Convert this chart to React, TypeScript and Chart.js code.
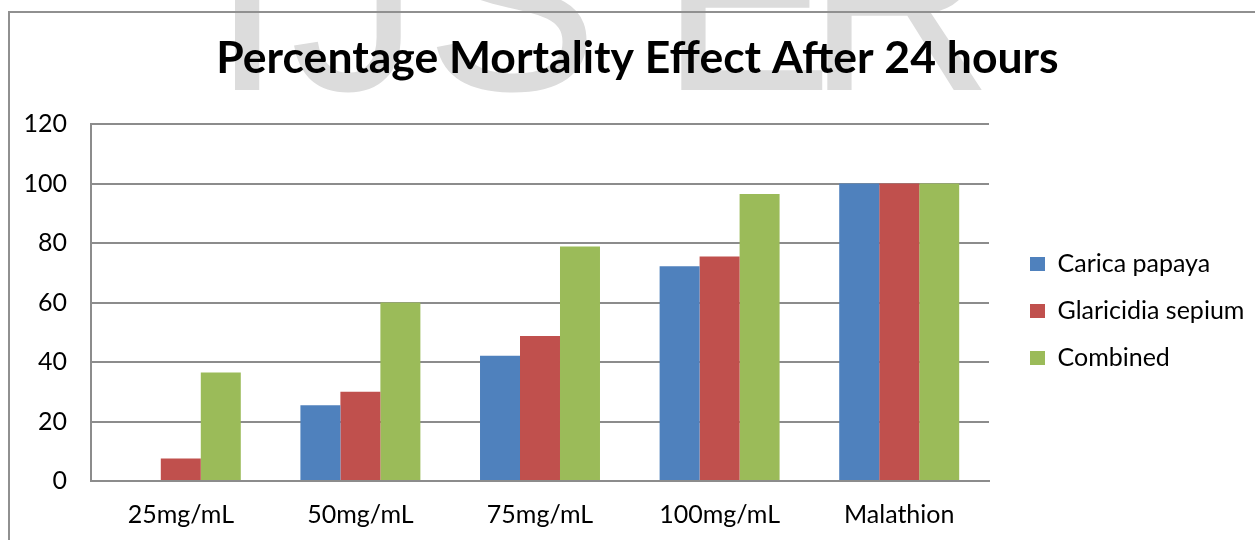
import React, { useEffect, useRef } from 'react';
import { Chart, registerables } from 'chart.js';

Chart.register(...registerables);

const chartTitle = 'Percentage Mortality Effect After 24 hours';
const categories = ['25mg/mL', '50mg/mL', '75mg/mL', '100mg/mL', 'Malathion'];
const seriesNames = ['Carica papaya', 'Glaricidia sepium', 'Combined'];
const caricaPapaya = [0, 25.5, 42.1, 72.2, 100];
const glaricidiaSepium = [7.6, 30, 48.7, 75.5, 100];
const combined = [36.5, 60, 78.8, 96.5, 100];
const yMin = 0;
const yMax = 120;
const yStep = 20;
const seriesColors = ['#4F81BD', '#C0504D', '#9BBB59'];
const watermarkLetters = ['I', 'J', 'S', 'E', 'R'];
const watermarkLefts = [211, 290, 425, 660, 806];

const FONT = 'Lato';
const LABEL_SIZE = 25;

export default function App() {
  const canvasRef = useRef<HTMLCanvasElement | null>(null);

  useEffect(() => {
    const canvas = canvasRef.current;
    if (!canvas) return;
    const ctx = canvas.getContext('2d');
    let textW = 185;
    if (ctx) {
      ctx.font = `normal ${LABEL_SIZE}px ${FONT}`;
      textW = Math.max(...seriesNames.map((n) => ctx.measureText(n).width));
    }
    const legendPad = 22;
    const boxW = 15;
    const legendLeft = 1008;
    const legendW = legendPad + boxW + LABEL_SIZE / 2 + textW + 10;
    const padR = 1255 - legendLeft - legendW;
    const padL = padR + 20;
    const plotLeft = 91;
    const plotRight = 989;

    const values = [caricaPapaya, glaricidiaSepium, combined];
    const chart = new Chart(canvas, {
      type: 'bar',
      data: {
        labels: categories,
        datasets: seriesNames.map((name, i) => ({
          label: name,
          data: values[i],
          backgroundColor: seriesColors[i],
          borderWidth: 0,
          categoryPercentage: 0.668,
          barPercentage: 1,
        })),
      },
      options: {
        responsive: false,
        animation: false,
        devicePixelRatio: 1,
        layout: { padding: { left: padL, right: padR, top: 0, bottom: 0 } },
        plugins: {
          tooltip: { enabled: false },
          title: {
            display: true,
            text: chartTitle,
            color: '#000000',
            font: { family: FONT, size: 44.5, weight: 'bold' },
            padding: { top: 32, bottom: 38.6 },
          },
          legend: {
            display: true,
            position: 'right',
            fullSize: false,
            title: { display: true, text: '', font: { size: 0 }, padding: { top: 17, bottom: 0 } },
            labels: {
              color: '#000000',
              font: { family: FONT, size: LABEL_SIZE },
              boxWidth: boxW,
              boxHeight: 14,
              padding: legendPad,
            },
          },
        },
        scales: {
          x: {
            type: 'category',
            grid: { display: false, drawTicks: false },
            border: { display: true, color: '#8c8c8c', width: 2 },
            ticks: { color: '#000000', font: { family: FONT, size: LABEL_SIZE }, padding: 19, maxRotation: 0 },
            afterFit: (s: any) => { s.height = 59; },
          },
          y: {
            type: 'linear',
            min: yMin,
            max: yMax,
            ticks: { stepSize: yStep, color: '#000000', font: { family: FONT, size: LABEL_SIZE }, padding: 24 },
            grid: { display: true, color: '#8c8c8c', lineWidth: 2, drawTicks: false },
            border: { display: true, color: '#8c8c8c', width: 2 },
            afterFit: (s: any) => { s.width = plotLeft - padL; },
          },
          yR: {
            type: 'linear',
            position: 'right',
            display: false,
            grid: { display: false, drawTicks: false },
            border: { display: false },
            ticks: { display: false },
            afterFit: (s: any) => { s.width = legendLeft - plotRight; },
          },
        },
      },
    });
    return () => chart.destroy();
  }, []);

  return (
    <div style={{ position: 'fixed', left: 0, top: 0, width: 1255, height: 540, overflow: 'hidden', background: '#ffffff' }}>
      {watermarkLetters.map((ch, i) => (
        <span
          key={i}
          style={{
            position: 'absolute',
            left: watermarkLefts[i],
            top: -130,
            fontFamily: '"Liberation Sans", Arial, sans-serif',
            fontSize: 260,
            lineHeight: '260px',
            color: '#dcdcdc',
            whiteSpace: 'pre',
          }}
        >
          {ch}
        </span>
      ))}
      <div
        style={{
          position: 'absolute',
          left: 8,
          top: 11,
          width: 2000,
          height: 2000,
          borderLeft: '2px solid #909090',
          borderTop: '2px solid #909090',
        }}
      />
      <canvas ref={canvasRef} width={1255} height={540} style={{ position: 'absolute', left: 0, top: 0 }} />
    </div>
  );
}
